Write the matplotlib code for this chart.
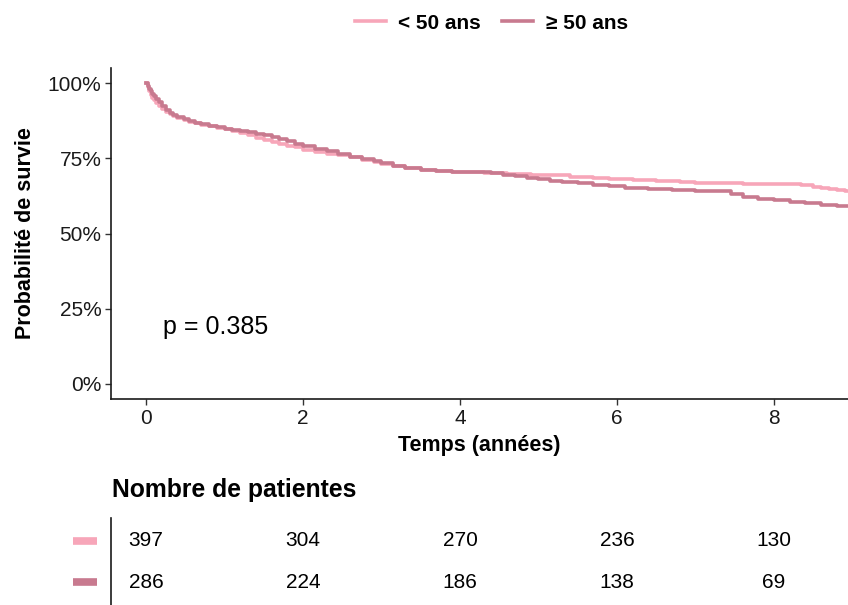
import matplotlib.pyplot as plt
from matplotlib.ticker import FuncFormatter

plt.rcParams['font.family'] = ['Liberation Sans', 'DejaVu Sans']

# Kaplan-Meier curves
t_young = [0, 0.02, 0.04, 0.06, 0.08, 0.1, 0.13, 0.16, 0.2, 0.25, 0.3, 0.35, 0.4, 0.48,
           0.55, 0.63, 0.7, 0.8, 0.9, 1.0, 1.1, 1.2, 1.3, 1.4, 1.5, 1.6, 1.7, 1.8, 1.9,
           2.0, 2.15, 2.3, 2.45, 2.6, 2.75, 2.9, 3.0, 3.15, 3.3, 3.5, 3.7, 3.9, 4.1, 4.3,
           4.6, 4.9, 5.1, 5.4, 5.7, 5.9, 6.2, 6.5, 6.8, 7.0, 7.3, 7.6, 8.0, 8.2, 8.35,
           8.5, 8.6, 8.7, 8.8, 8.9, 8.96]
s_young = [100, 98.6, 97.3, 96.2, 95.2, 94.3, 93.3, 92.4, 91.4, 90.4, 89.6, 89.0, 88.4, 87.8,
           87.2, 86.7, 86.2, 85.7, 85.2, 84.7, 84.0, 83.3, 82.6, 81.9, 81.2, 80.5, 79.8, 79.2, 78.6,
           77.8, 77.1, 76.5, 76.0, 75.4, 74.6, 73.8, 73.2, 72.5, 71.8, 71.2, 70.9, 70.6, 70.4, 70.2,
           69.9, 69.6, 69.3, 68.9, 68.5, 68.2, 67.8, 67.4, 67.1, 66.9, 66.7, 66.6, 66.5, 66.3, 66.0,
           65.6, 65.2, 64.8, 64.4, 64.0, 64.0]

t_old = [0, 0.02, 0.04, 0.06, 0.08, 0.1, 0.13, 0.16, 0.2, 0.25, 0.3, 0.35, 0.4, 0.48,
         0.55, 0.63, 0.7, 0.8, 0.9, 1.0, 1.1, 1.2, 1.3, 1.4, 1.5, 1.6, 1.7, 1.8, 1.9,
         2.0, 2.15, 2.3, 2.45, 2.6, 2.75, 2.9, 3.0, 3.15, 3.3, 3.5, 3.7, 3.9, 4.1, 4.4,
         4.55, 4.7, 4.85, 5.0, 5.15, 5.3, 5.5, 5.7, 5.9, 6.1, 6.4, 6.7, 7.0, 7.35, 7.45,
         7.6, 7.8, 8.0, 8.2, 8.4, 8.6, 8.8, 8.96]
s_old = [100, 99.0, 98.1, 97.3, 96.5, 95.7, 94.7, 93.7, 92.4, 91.2, 90.2, 89.4, 88.7, 88.0,
         87.4, 86.9, 86.4, 85.9, 85.4, 84.9, 84.5, 84.1, 83.7, 83.2, 82.6, 82.0, 81.3, 80.6, 79.9,
         79.1, 78.2, 77.3, 76.5, 75.6, 74.8, 74.0, 73.3, 72.5, 71.7, 71.0, 70.7, 70.5, 70.3, 70.1,
         69.6, 69.0, 68.6, 68.1, 67.6, 67.2, 66.7, 66.2, 65.7, 65.2, 64.9, 64.6, 64.3, 64.1, 63.2,
         62.2, 61.6, 61.0, 60.5, 60.0, 59.6, 59.3, 59.3]

times = [0, 2, 4, 6, 8]
risk_young = [397, 304, 270, 236, 130]
risk_old = [286, 224, 186, 138, 69]

col_young = '#F7A6B9'
col_old = '#C87A8F'

fig = plt.figure(figsize=(8.48, 6.05), dpi=100)
ax = fig.add_axes([0.1309, 0.3405, 0.8691, 0.547])

ax.plot(t_young, s_young, drawstyle='steps-post', color=col_young, lw=2.6, label='< 50 ans')
ax.plot(t_old, s_old, drawstyle='steps-post', color=col_old, lw=2.6, label='\u2265 50 ans')

ax.set_xlim(-0.446, 8.943)
ax.set_ylim(-5, 105)
ax.set_xticks(times)
ax.set_yticks([0, 25, 50, 75, 100])
ax.yaxis.set_major_formatter(FuncFormatter(lambda v, p: f'{int(v)}%'))
ax.tick_params(labelsize=15, length=4, width=1, colors='#333333', labelcolor='#1a1a1a', pad=3)
for s in ['top', 'right']:
    ax.spines[s].set_visible(False)
for s in ['left', 'bottom']:
    ax.spines[s].set_linewidth(1.2)
    ax.spines[s].set_color('#1a1a1a')

ax.set_xlabel('Temps (années)', fontsize=15.5, fontweight='bold', labelpad=5)
ax.set_ylabel('Probabilité de survie', fontsize=15.5, fontweight='bold', labelpad=8)
ax.text(0.22, 19, 'p = 0.385', fontsize=18, va='center', ha='left')

leg = ax.legend(loc='lower center', bbox_to_anchor=(0.516, 1.05), ncol=2, frameon=False,
                prop={'size': 15, 'weight': 'bold'}, handlelength=1.5, columnspacing=1.0,
                handletextpad=0.6)

# risk table
tab = fig.add_axes([0.1309, 0.0, 0.8691, 0.1438])
tab.set_xlim(-0.446, 8.943)
tab.set_ylim(0, 1)
tab.axis('off')
tab.plot([-0.45, -0.45], [0, 1], color='#1a1a1a', lw=1.2, clip_on=False)
rows = [(risk_young, 0.736, col_young), (risk_old, 0.264, col_old)]
for vals, yy, c in rows:
    for t, v in zip(times, vals):
        tab.text(t, yy, str(v), ha='center', va='center', fontsize=15)
    tab.plot([-0.93, -0.62], [yy, yy], color=c, lw=5.5, solid_capstyle='butt', clip_on=False)
fig.text(0.132, 0.19, 'Nombre de patientes', fontsize=17.8, fontweight='bold', va='center')

fig.savefig('out.png', dpi=100)
